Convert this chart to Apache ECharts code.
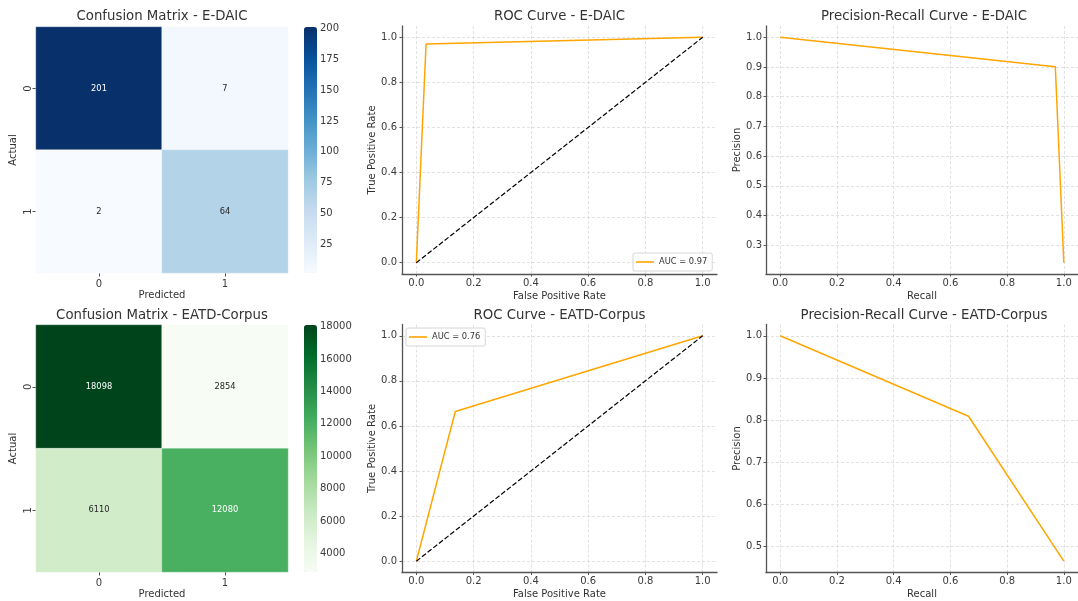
<!DOCTYPE html>
<html><head><meta charset="utf-8">
<script src="https://cdn.jsdelivr.net/npm/echarts@6/dist/echarts.min.js"></script>
<style>html,body{margin:0;padding:0;background:#fff}#c{width:1078px;height:601px}</style>
</head><body><div id="c"></div>
<script>
// ---- data ----
const classLabels = ['0', '1'];
const cmEdaic = [[201, 7], [2, 64]];
const cmEatd = [[18098, 2854], [6110, 12080]];
const cbTicksEdaic = [25, 50, 75, 100, 125, 150, 175, 200];
const cbTicksEatd = [4000, 6000, 8000, 10000, 12000, 14000, 16000, 18000];
const rocEdaic = [[0, 0], [0.034, 0.97], [1, 1]];
const rocEatd = [[0, 0], [0.136, 0.664], [1, 1]];
const prEdaic = [[1, 0.241], [0.97, 0.901], [0, 1]];
const prEatd = [[1, 0.465], [0.664, 0.809], [0, 1]];
const chanceLine = [[0, 0], [1, 1]];
const aucNameEdaic = 'AUC = 0.97';
const aucNameEatd = 'AUC = 0.76';
const rateTicks = [0, 0.2, 0.4, 0.6, 0.8, 1.0];
const precTicksEdaic = [0.3, 0.4, 0.5, 0.6, 0.7, 0.8, 0.9, 1.0];
const precTicksEatd = [0.5, 0.6, 0.7, 0.8, 0.9, 1.0];
const titles = ['Confusion Matrix - E-DAIC', 'ROC Curve - E-DAIC', 'Precision-Recall Curve - E-DAIC',
                'Confusion Matrix - EATD-Corpus', 'ROC Curve - EATD-Corpus', 'Precision-Recall Curve - EATD-Corpus'];

// ---- style ----
const FONT = 'DejaVu Sans';
const TXT = '#333333';
const TICK = '#3a3a3a';
const SPINE = '#555555';
const ORANGE = '#FFA500';
const blues = ['#f7fbff','#deebf7','#c6dbef','#9ecae1','#6baed6','#4292c6','#2171b5','#08519c','#08306b'];
const greens = ['#f7fcf5','#e5f5e0','#c7e9c0','#a1d99b','#74c476','#41ab5d','#238b45','#006d2c','#00441b'];

const rows = [{top: 27, h: 246, lineTop: 26, lineH: 248, titleTop: 10},
              {top: 325, h: 247, lineTop: 324.5, lineH: 248, titleTop: 309}];

const grids = [], xAxes = [], yAxes = [], series = [], visualMaps = [], legends = [], titleOpts = [];

function heatPanel(row, cm, colors, cbTicks, title) {
  const R = rows[row];
  const gi = grids.length;
  grids.push({left: 36, top: R.top, width: 252, height: R.h});
  const flat = cm.flat();
  const vmin = Math.min(...flat), vmax = Math.max(...flat), mid = (vmin + vmax) / 2;
  xAxes.push({gridIndex: gi, type: 'category', data: classLabels, position: 'bottom',
    axisLine: {show: false}, axisTick: {show: true, alignWithLabel: true, length: 3.5, lineStyle: {color: SPINE}},
    axisLabel: {fontFamily: FONT, fontSize: 10, color: TICK, margin: 6},
    splitLine: {show: false},
    name: 'Predicted', nameLocation: 'middle', nameGap: 17,
    nameTextStyle: {fontFamily: FONT, fontSize: 10, color: TXT}});
  yAxes.push({gridIndex: gi, type: 'category', data: classLabels, inverse: true,
    axisLine: {show: false}, axisTick: {show: true, alignWithLabel: true, length: 3.5, lineStyle: {color: SPINE}},
    axisLabel: {fontFamily: FONT, fontSize: 10, color: TICK, rotate: 90, margin: 3},
    splitLine: {show: false},
    name: 'Actual', nameLocation: 'middle', nameGap: 18, nameRotate: 90,
    nameTextStyle: {fontFamily: FONT, fontSize: 10, color: TXT}});
  const data = [];
  cm.forEach((r, i) => r.forEach((v, j) => {
    data.push({value: [j, i, v], label: {color: v > mid ? '#ffffff' : '#262626'}});
  }));
  const si = series.length;
  series.push({type: 'heatmap', xAxisIndex: xAxes.length - 1, yAxisIndex: yAxes.length - 1, data,
    label: {show: true, fontFamily: FONT, fontSize: 8.3, formatter: p => String(p.value[2])},
    itemStyle: {borderColor: 'rgba(255,255,255,0.6)', borderWidth: 0.5},
    emphasis: {disabled: true}});
  visualMaps.push({type: 'continuous', seriesIndex: si, dimension: 2, min: vmin, max: vmax,
    inRange: {color: colors}, calculable: false, hoverLink: false, show: true,
    left: 304, top: R.top, itemWidth: 13, itemHeight: R.h, padding: 0, text: null,
    textStyle: {fontSize: 0}});
  // colorbar axis
  const ci = grids.length;
  grids.push({left: 304, top: R.top, width: 13, height: R.h});
  xAxes.push({gridIndex: ci, type: 'value', show: false, min: 0, max: 1});
  yAxes.push({gridIndex: ci, type: 'value', position: 'right', min: vmin, max: vmax,
    axisLine: {show: false},
    axisTick: {show: true, length: 3.5, customValues: cbTicks, lineStyle: {color: SPINE}},
    axisLabel: {customValues: cbTicks, fontFamily: FONT, fontSize: 10, color: TICK, margin: 3, formatter: v => String(v)},
    splitLine: {show: false}});
  titleOpts.push({text: title, left: 162, top: R.titleTop, textAlign: 'center', padding: 0,
    textStyle: {fontFamily: FONT, fontSize: 13.3, fontWeight: 'normal', color: TXT}});
}

function linePanel(row, left, width, xName, yName, yMin, yMax, yTicks, curve, curveName, withChance, legendPos, title, cx, yNameGap, yLabMargin) {
  const R = rows[row];
  const gi = grids.length;
  grids.push({left, top: R.lineTop, width, height: R.lineH});
  const splitStyle = {show: true, lineStyle: {color: '#d9d9d9', type: [3, 2], width: 0.8}};
  xAxes.push({gridIndex: gi, type: 'value', min: -0.05, max: 1.05,
    axisLine: {show: true, onZero: false, lineStyle: {color: SPINE, width: 1.3}},
    axisTick: {show: true, length: 2.5, customValues: rateTicks, lineStyle: {color: SPINE}},
    axisLabel: {customValues: rateTicks, fontFamily: FONT, fontSize: 10, color: TICK, margin: 4, formatter: v => v.toFixed(1)},
    splitLine: splitStyle,
    name: xName, nameLocation: 'middle', nameGap: 17,
    nameTextStyle: {fontFamily: FONT, fontSize: 10, color: TXT}});
  yAxes.push({gridIndex: gi, type: 'value', min: yMin, max: yMax,
    axisLine: {show: true, onZero: false, lineStyle: {color: SPINE, width: 1.3}},
    axisTick: {show: true, length: 2.5, customValues: yTicks, lineStyle: {color: SPINE}},
    axisLabel: {customValues: yTicks, fontFamily: FONT, fontSize: 10, color: TICK, margin: yLabMargin, formatter: v => v.toFixed(1)},
    splitLine: splitStyle,
    name: yName, nameLocation: 'middle', nameGap: yNameGap, nameRotate: 90,
    nameTextStyle: {fontFamily: FONT, fontSize: 10, color: TXT}});
  const xi = xAxes.length - 1, yi = yAxes.length - 1;
  series.push({type: 'line', name: curveName, xAxisIndex: xi, yAxisIndex: yi, data: curve,
    symbol: 'none', lineStyle: {color: ORANGE, width: 1.5}, itemStyle: {color: ORANGE},
    emphasis: {disabled: true}, animation: false});
  if (withChance) {
    series.push({type: 'line', name: 'chance', xAxisIndex: xi, yAxisIndex: yi, data: chanceLine,
      symbol: 'none', lineStyle: {color: '#000', width: 1.2, type: [5, 2.2]},
      emphasis: {disabled: true}, animation: false});
  }
  if (legendPos) {
    legends.push(Object.assign({data: [{name: curveName, icon: 'rect', itemStyle: {color: ORANGE}}],
      orient: 'vertical', itemWidth: 18, itemHeight: 1.6, itemGap: 0,
      padding: [5, 5, 5, 3], borderColor: '#cccccc', borderWidth: 0.8, borderRadius: 2, backgroundColor: '#ffffff',
      selectedMode: false,
      textStyle: {fontFamily: FONT, fontSize: 8.3, color: TXT}}, legendPos));
  }
  titleOpts.push({text: title, left: cx, top: R.titleTop, textAlign: 'center', padding: 0,
    textStyle: {fontFamily: FONT, fontSize: 13.3, fontWeight: 'normal', color: TXT}});
}

heatPanel(0, cmEdaic, blues, cbTicksEdaic, titles[0]);
linePanel(0, 402, 315, 'False Positive Rate', 'True Positive Rate', -0.05, 1.05, rateTicks, rocEdaic, aucNameEdaic, true, {left: 633, top: 253}, titles[1], 559.5, 24, 5);
linePanel(0, 766, 316, 'Recall', 'Precision', prEdaic[0][1] - 0.038, 1.038, precTicksEdaic, prEdaic, 'pr1', false, null, titles[2], 924, 22, 4);
heatPanel(1, cmEatd, greens, cbTicksEatd, titles[3]);
linePanel(1, 402, 315, 'False Positive Rate', 'True Positive Rate', -0.05, 1.05, rateTicks, rocEatd, aucNameEatd, true, {left: 406, top: 328}, titles[4], 559.5, 24, 5);
linePanel(1, 766, 316, 'Recall', 'Precision', prEatd[0][1] - 0.0268, 1.0268, precTicksEatd, prEatd, 'pr2', false, null, titles[5], 924, 22, 4);

const chart = echarts.init(document.getElementById('c'), null, {renderer: 'canvas'});
chart.setOption({
  animation: false,
  backgroundColor: '#ffffff',
  title: titleOpts,
  grid: grids,
  xAxis: xAxes,
  yAxis: yAxes,
  visualMap: visualMaps,
  legend: legends,
  series
});
</script></body></html>
